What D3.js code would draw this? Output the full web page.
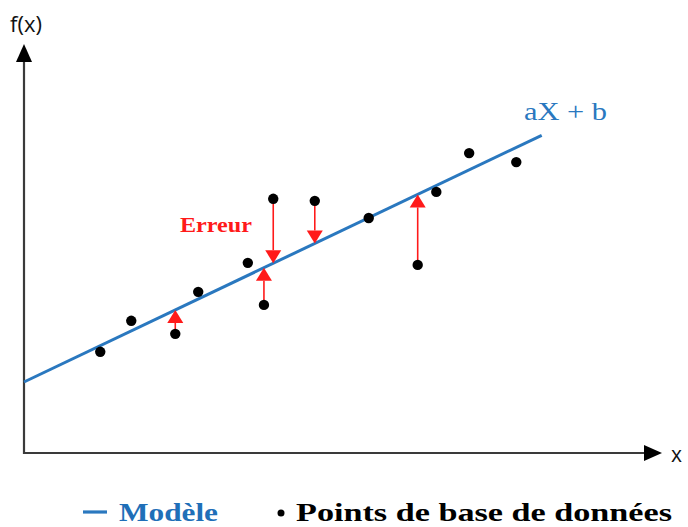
<!DOCTYPE html>
<html>
<head>
<meta charset="utf-8">
<script src="https://cdn.jsdelivr.net/npm/d3@7"></script>
<style>
html,body{margin:0;padding:0;background:#fff;}
svg{display:block;}
</style>
</head>
<body>
<svg id="chart" width="688" height="527"></svg>
<script>
// Data (abstract units)
const pointX = [1.23, 1.73, 2.44, 2.81, 3.61, 3.87, 4.02, 4.69, 5.56, 6.35, 6.65, 7.18, 7.94];
const pointY = [2.48, 3.24, 2.92, 3.95, 4.66, 3.63, 6.23, 6.18, 5.76, 4.61, 6.40, 7.35, 7.13];
const errorIdx = [2, 5, 6, 7, 9];
const modelA = 0.724, modelB = 1.74;
const modelRange = [0, 8.35];
const labels = {yAxis: "f(x)", xAxis: "x", model: "aX + b", error: "Erreur",
  legendModel: "Modèle", legendPoints: "Points de base de données"};

const svg = d3.select("#chart");
const x = d3.scaleLinear().domain([0, 10]).range([24, 644]);
const y = d3.scaleLinear().domain([0, 10]).range([453, 45]);

const blue = "#2a78bf", red = "#ff1a1a", axisCol = "#3a3a3a";
const serif = "'Liberation Serif','Times New Roman',serif";
const sans = "'Open Sans','Liberation Sans',sans-serif";

// Axes
svg.append("line").attr("x1", x(0)).attr("x2", x(0)).attr("y1", y(0)+1).attr("y2", 58)
  .attr("stroke", axisCol).attr("stroke-width", 2.2);
svg.append("line").attr("x1", x(0)-1).attr("x2", 648).attr("y1", y(0)).attr("y2", y(0))
  .attr("stroke", axisCol).attr("stroke-width", 2.2);
svg.append("path").attr("d", `M${x(0)},44 L${x(0)-8},62 L${x(0)+8},62 Z`).attr("fill", "#000");
svg.append("path").attr("d", `M662,${y(0)} L644,${y(0)-8} L644,${y(0)+8} Z`).attr("fill", "#000");

svg.append("text").attr("x", 10).attr("y", 32).attr("font-family", sans).attr("font-size", 22)
  .attr("fill", "#111").text(labels.yAxis);
svg.append("text").attr("x", 671).attr("y", 462).attr("font-family", sans).attr("font-size", 21)
  .attr("fill", "#111").text(labels.xAxis);

// Model line
const f = v => modelA * v + modelB;
svg.append("line")
  .attr("x1", x(modelRange[0])).attr("y1", y(f(modelRange[0])))
  .attr("x2", x(modelRange[1])).attr("y2", y(f(modelRange[1])))
  .attr("stroke", blue).attr("stroke-width", 3);

svg.append("text").attr("x", 524).attr("y", 120).attr("font-family", serif).attr("font-size", 25)
  .attr("fill", blue).attr("textLength", 83).attr("lengthAdjust", "spacingAndGlyphs").text(labels.model);

// Error arrows
const g = svg.append("g");
errorIdx.forEach(i => {
  const px = x(pointX[i]), py = y(pointY[i]), ly = y(f(pointX[i]));
  const dir = ly < py ? -1 : 1; // -1 = upward
  const headLen = 13, headW = 8;
  const baseY = ly - dir * headLen;
  g.append("line").attr("x1", px).attr("x2", px).attr("y1", py).attr("y2", baseY)
    .attr("stroke", red).attr("stroke-width", 1.6);
  g.append("path").attr("d", `M${px},${ly} L${px-headW},${baseY} L${px+headW},${baseY} Z`)
    .attr("fill", red);
});

svg.append("text").attr("x", 180).attr("y", 232).attr("font-family", serif).attr("font-size", 22)
  .attr("font-weight", "bold").attr("fill", red).attr("textLength", 72)
  .attr("lengthAdjust", "spacingAndGlyphs").text(labels.error);

// Points
svg.selectAll("circle.pt").data(pointX).enter().append("circle").attr("class", "pt")
  .attr("cx", (d) => x(d)).attr("cy", (d, i) => y(pointY[i])).attr("r", 5.2).attr("fill", "#000");

// Legend
svg.append("line").attr("x1", 83).attr("x2", 107).attr("y1", 512).attr("y2", 512)
  .attr("stroke", blue).attr("stroke-width", 3.2);
svg.append("text").attr("x", 119).attr("y", 521).attr("font-family", serif).attr("font-size", 26)
  .attr("font-weight", "bold").attr("fill", "#1f6fb8").attr("textLength", 99)
  .attr("lengthAdjust", "spacingAndGlyphs").text(labels.legendModel);
svg.append("circle").attr("cx", 281).attr("cy", 513).attr("r", 3.5).attr("fill", "#000");
svg.append("text").attr("x", 296).attr("y", 521).attr("font-family", serif).attr("font-size", 26)
  .attr("font-weight", "bold").attr("fill", "#000").attr("textLength", 376)
  .attr("lengthAdjust", "spacingAndGlyphs").text(labels.legendPoints);
</script>
</body>
</html>
